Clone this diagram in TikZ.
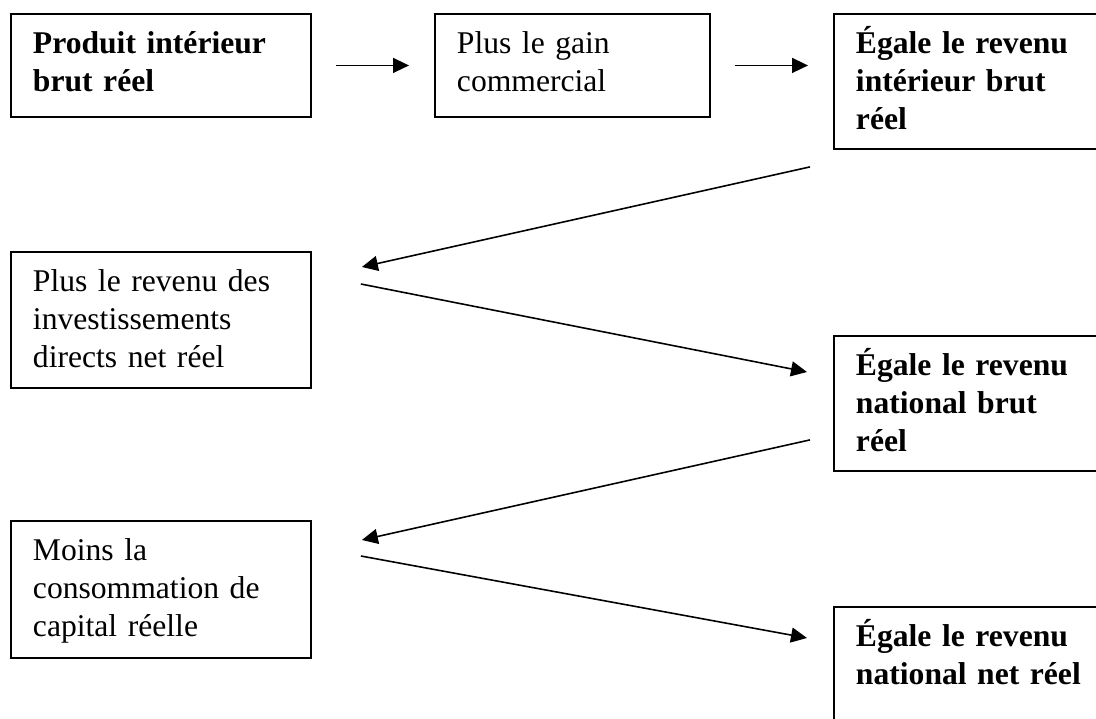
\documentclass[tikz,border=0pt]{standalone}
\usepackage{fontspec}
\setmainfont{Liberation Serif}
\usetikzlibrary{arrows.meta,calc}

\tikzset{
  box/.style={draw, line width=1.1pt, anchor=north west, align=left,
    inner xsep=0.44cm, inner ysep=0pt, text height=0.8cm,
    text width=5.12cm, font=\fontsize{18}{21.6}\selectfont},
  boldbox/.style={box, font=\fontsize{18}{21.6}\selectfont\bfseries},
}

\begin{document}
\begin{tikzpicture}[x=0.02cm, y=-0.02cm, line width=0.9pt]

\clip (0,0) rectangle (1096,719);

\node[boldbox, text depth=1.26cm] (a1) at (10,13) {Produit intérieur\\brut réel};
\node[box, text width=4.62cm, text depth=1.26cm] (a2) at (434,13) {Plus le gain\\commercial};
\node[boldbox, text depth=1.9cm] (a3) at (833,13) {Égale le revenu\\intérieur brut\\réel};

\node[box, text depth=1.92cm] (b1) at (10,251) {Plus le revenu des\\investissements\\directs net réel};
\node[boldbox, text depth=1.9cm] (b2) at (833,335) {Égale le revenu\\national brut\\réel};

\node[box, text depth=1.94cm] (c1) at (10,520) {Moins la\\consommation de\\capital réelle};
\node[boldbox, text depth=3cm] (c2) at (833,606) {Égale le revenu\\national net réel};

% ends of the slanted arrows
\coordinate (s1) at ($(a3.south west)+(-23,17)$);
\coordinate (e1) at ($(b1.north east)+(50,16)$);
\coordinate (s2) at ($(b1.north east)+(49,33)$);
\coordinate (e2) at ($(b2.north west)+(-26,37)$);
\coordinate (s3) at ($(b2.south west)+(-23,-32)$);
\coordinate (e3) at ($(c1.north east)+(50,20)$);
\coordinate (s4) at ($(c1.north east)+(49,36)$);
\coordinate (e4) at ($(c2.north west)+(-26,32)$);

\path[-{Triangle[length=0.32cm,width=0.3cm]}, shorten <=0.48cm, shorten >=0.5cm]
  (a1) edge (a2)
  (a2.east) edge (a2.east -| a3.west);
\path[-{Triangle[length=0.32cm,width=0.3cm]}]
  (s1) edge (e1) (s2) edge (e2) (s3) edge (e3) (s4) edge (e4);

\end{tikzpicture}
\end{document}
